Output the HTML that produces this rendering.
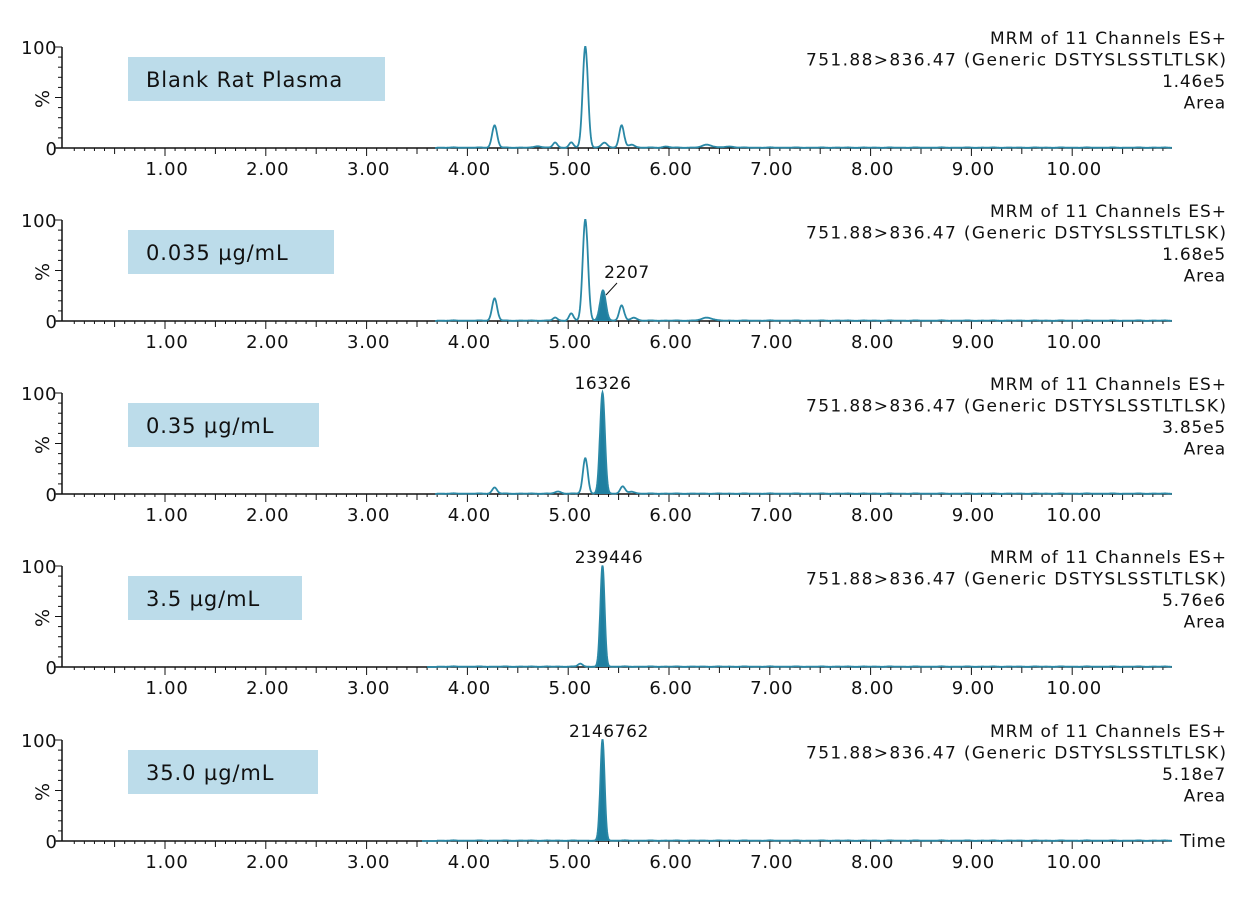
<!DOCTYPE html>
<html><head><meta charset="utf-8"><style>
body{margin:0;background:#fff;width:1254px;height:900px;overflow:hidden}
svg text{font-family:"DejaVu Sans","Liberation Sans",sans-serif;fill:#111}
</style></head><body>
<svg id="s" width="1254" height="900" xmlns="http://www.w3.org/2000/svg"></svg>
<script>
const S=document.getElementById('s');
const X=t=>165+100.8*(t-1);
const tops=[47,220,393,566,740];
const panels=[
 {lab:"Blank Rat Plasma",bw:257,start:3.68,sc:"1.46e5",peaks:[[4.27,22,.025],[4.7,1.5,.03],[4.87,5,.022],[5.03,5,.022],[5.17,100,.026],[5.36,5,.028],[5.53,22,.024],[5.63,3,.03],[5.97,1,.03],[6.38,3,.045],[6.6,1,.05]],fill:null},
 {lab:"0.035 µg/mL",bw:206,start:3.68,sc:"1.68e5",peaks:[[4.27,22,.025],[4.87,3,.022],[5.03,7,.022],[5.17,100,.026],[5.53,15,.024],[5.65,3,.03],[6.38,3,.05]],fill:[5.345,30,.028],ann:["2207",627,278]},
 {lab:"0.35 µg/mL",bw:191,start:3.68,sc:"3.85e5",peaks:[[4.27,6,.024],[4.9,2,.03],[5.17,35,.024],[5.54,7,.024],[5.63,2,.03]],fill:[5.34,100,.024],ann:["16326",603,389]},
 {lab:"3.5 µg/mL",bw:174,start:3.6,sc:"5.76e6",peaks:[[5.12,3,.022]],fill:[5.34,100,.021],ann:["239446",609,563]},
 {lab:"35.0 µg/mL",bw:190,start:3.55,sc:"5.18e7",peaks:[],fill:[5.34,100,.021],ann:["2146762",609,737]}
];
const g=(t,p)=>p[1]*Math.exp(-((t-p[0])**2)/(2*p[2]*p[2]));
let h='';
panels.forEach((P,i)=>{
 const y0=tops[i]+101, yt=tops[i], H=101;
 const Y=v=>y0-v*H/100;
 h+=`<line x1="62" y1="${yt}" x2="62" y2="${y0}" stroke="#111" stroke-width="1.5"/>`;
 for(let k=0;k<=10;k++){const yy=y0-k*H/10;const L=(k%5==0)?7:4;h+=`<line x1="${62-L}" y1="${yy}" x2="62" y2="${yy}" stroke="#111"/>`;}
 h+=`<text x="57" y="${yt+7}" font-size="18" text-anchor="end" letter-spacing="0.5">100</text>`;
 h+=`<text x="57" y="${y0+7}" font-size="18" text-anchor="end">0</text>`;
 h+=`<text transform="translate(49,${yt+52}) rotate(-90)" font-size="19" text-anchor="middle">%</text>`;
 h+=`<line x1="56" y1="${y0}" x2="1172" y2="${y0}" stroke="#111" stroke-width="1.5"/>`;
 for(let k=1;k<=109;k++){const xx=X(k/10);const L=(k%10==0)?8:(k%5==0?6:3);h+=`<line x1="${xx}" y1="${y0}" x2="${xx}" y2="${y0+L}" stroke="#111"/>`;}
 for(let k=1;k<=10;k++)h+=`<text x="${X(k)+2}" y="${y0+27}" font-size="18" text-anchor="middle" letter-spacing="0.8">${k}.00</text>`;
 h+=`<rect x="128" y="${yt+10}" width="${P.bw}" height="44" fill="#bcdcea"/>`;
 h+=`<text x="146" y="${yt+40}" font-size="21" letter-spacing="0.9">${P.lab}</text>`;
 const rt=["MRM of 11 Channels ES+","751.88>836.47 (Generic DSTYSLSSTLTLSK)",P.sc,"Area"];
 const tl=[236,420,0,0];
 rt.forEach((s,j)=>{const x0=tl[j]?1226-tl[j]:1226;h+= tl[j]?`<text x="${x0}" y="${yt-3+j*21.5}" font-size="17" textLength="${tl[j]}" lengthAdjust="spacing">${s}</text>`:`<text x="1226" y="${yt-3+j*21.5}" font-size="17" text-anchor="end" letter-spacing="0.8">${s}</text>`;});
 let d='';
 for(let t=P.start;t<=10.99;t+=0.004){
   let v=0.4+0.25*Math.sin(t*37)*Math.sin(t*11);
   if(t<3.7) v=0;
   P.peaks.forEach(p=>v+=g(t,p));
   if(P.fill) v+=g(t,P.fill);
   d+=(d?'L':'M')+X(t).toFixed(1)+','+Y(Math.max(0,v)).toFixed(1);
 }
 if(P.fill){
   const f=P.fill;let fd='M'+X(f[0]-3*f[2])+','+y0;
   for(let t=f[0]-3*f[2];t<=f[0]+3*f[2];t+=0.002){let v=g(t,f);P.peaks.forEach(p=>v+=g(t,p));fd+='L'+X(t).toFixed(1)+','+Y(v).toFixed(1);}
   fd+='L'+X(f[0]+3*f[2])+','+y0+'Z';
   h+=`<path d="${fd}" fill="#1f7fa0"/>`;
 }
 h+=`<path d="${d}" fill="none" stroke="#2a88a6" stroke-width="1.8"/>`;
 if(P.ann){h+=`<text x="${P.ann[1]}" y="${P.ann[2]}" font-size="17" text-anchor="middle" letter-spacing="0.6">${P.ann[0]}</text>`;
  if(i==1)h+=`<line x1="617" y1="283" x2="606" y2="295" stroke="#111"/>`;}
 if(i==4)h+=`<text x="1180" y="${y0+6}" font-size="18" letter-spacing="0.5">Time</text>`;
});
S.innerHTML=h;
</script>
</body></html>
